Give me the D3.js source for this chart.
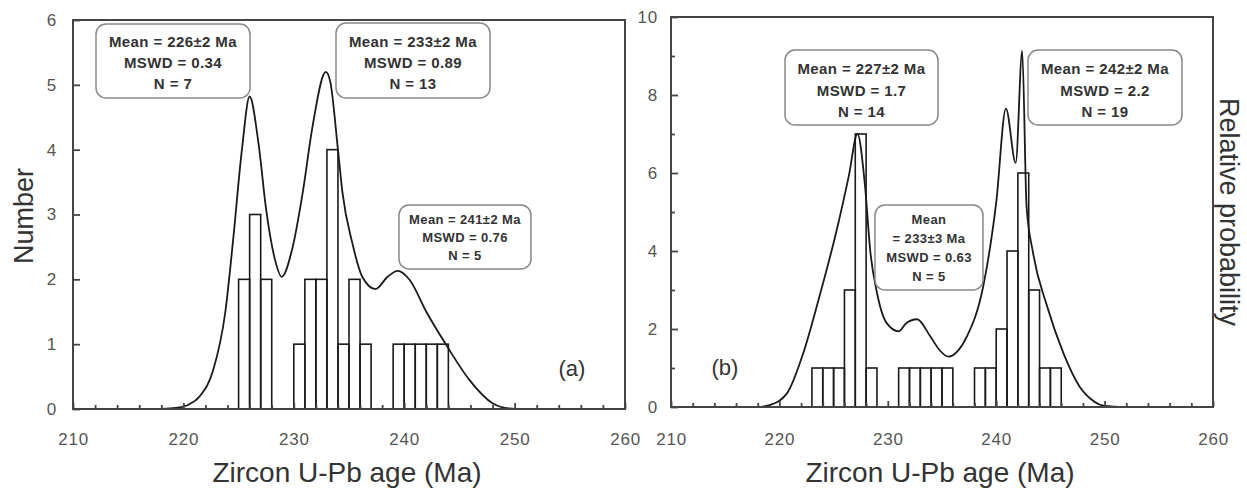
<!DOCTYPE html>
<html><head><meta charset="utf-8">
<script src="https://cdn.jsdelivr.net/npm/d3@7/dist/d3.min.js"></script>
<style>
body{margin:0;background:#fff;}
svg text{font-family:"Liberation Sans",Arial,sans-serif;}
</style></head>
<body><svg id="chart" width="1247" height="489"></svg>
<script>
// ---- Data (a) ----
const binStartA = [225,226,227,230,231,232,233,234,235,236,239,240,241,242,243];
const countA    = [2,3,2,1,2,2,4,1,2,1,1,1,1,1,1];
const curveAgeA = [217,218.5,219.5,220.5,221.5,222.7,223.8,224.5,225.3,226,226.8,227.5,228.3,228.9,229.9,230.8,231.7,232.9,233.3,234,234.4,235.3,236.2,237.4,238.5,239.4,240.5,242,243.8,245.9,248,249.5,251];
const curveValA = [0,0.005,0.02,0.07,0.2,0.6,1.5,2.6,4.0,4.82,4.1,3.07,2.3,2.04,2.5,3.33,4.36,5.2,5.05,4.0,3.35,2.56,2.04,1.85,2.04,2.13,1.99,1.5,0.99,0.45,0.09,0.01,0];
const yTicksA = [0,1,2,3,4,5,6];

// ---- Data (b) ----
const binStartB = [223,224,225,226,227,228,231,232,233,234,235,238,239,240,241,242,243,244,245];
const countB    = [1,1,1,3,7,1,1,1,1,1,1,1,1,2,4,6,3,1,1];
const curveAgeB = [218,219.1,220.7,222.2,223.7,225.3,226.4,227.2,227.9,228.4,229,229.9,231,231.7,232.7,233.9,234.8,235.6,236.5,237.3,238.8,240,240.9,241.8,242.4,242.8,243.4,244.7,246.2,247.7,249,250,252];
const curveValB = [0,0.05,0.35,1.38,2.84,4.55,5.92,7.0,5.66,3.95,2.93,2.15,1.94,2.15,2.25,1.82,1.45,1.29,1.45,1.81,3.09,5.24,7.65,6.26,9.13,5.15,3.95,2.58,1.38,0.52,0.15,0.03,0];
const yTicksB = [0,2,4,6,8,10];
const yMinorB = [1,3,5,7,9];

const xTicks = [210,220,230,240,250,260];
const xMinor = [212,214,216,218,222,224,226,228,232,234,236,238,242,244,246,248,252,254,256,258];

const boxesA = [
  {lines:["Mean = 226±2 Ma","MSWD = 0.34","N = 7"]},
  {lines:["Mean = 233±2 Ma","MSWD = 0.89","N = 13"]},
  {lines:["Mean = 241±2 Ma","MSWD = 0.76","N = 5"]}
];
const boxesB = [
  {lines:["Mean = 227±2 Ma","MSWD = 1.7","N = 14"]},
  {lines:["Mean = 242±2 Ma","MSWD = 2.2","N = 19"]},
  {lines:["Mean","= 233±3 Ma","MSWD = 0.63","N = 5"]}
];

const svg = d3.select("#chart");
const axisColor = "#444", lineColor = "#1a1a1a";

function panel(o){
  const g = svg.append("g");
  const x = d3.scaleLinear().domain([210,260]).range([o.left,o.right]);
  const y = d3.scaleLinear().domain([0,o.ymax]).range([o.bottom,o.top]);

  g.append("g").selectAll("rect").data(o.bins.map((b,i)=>({b,c:o.counts[i]})))
    .join("rect")
    .attr("x",d=>x(d.b)).attr("width",d=>x(d.b+1)-x(d.b))
    .attr("y",d=>y(d.c)).attr("height",d=>y(0)-y(d.c))
    .attr("fill","none").attr("stroke",lineColor).attr("stroke-width",1.6);

  const pts = o.ages.map((a,i)=>[a,o.vals[i]]);
  g.append("path").datum(pts)
    .attr("d",d3.line().x(d=>x(d[0])).y(d=>y(d[1])).curve(d3.curveMonotoneX))
    .attr("fill","none").attr("stroke",lineColor).attr("stroke-width",1.8);

  g.append("g").attr("transform",`translate(0,${o.bottom})`)
    .call(d3.axisBottom(x).tickValues(xTicks).tickSize(-6).tickPadding(o.xpad).tickFormat(d3.format("d")));
  g.append("g").attr("transform",`translate(0,${o.bottom})`)
    .call(d3.axisBottom(x).tickValues(xMinor).tickSize(-4).tickFormat(""));
  g.append("g").attr("transform",`translate(${o.left},0)`)
    .call(d3.axisLeft(y).tickValues(o.yTicks).tickSize(-7).tickPadding(o.ypad).tickFormat(d3.format("d")));
  if(o.yMinor){
    g.append("g").attr("transform",`translate(${o.left},0)`)
      .call(d3.axisLeft(y).tickValues(o.yMinor).tickSize(-4).tickFormat(""));
  }
  g.selectAll(".domain").remove();
  g.selectAll(".tick line").attr("stroke",axisColor).attr("stroke-width",1.8);
  g.selectAll(".tick text").attr("fill","#555").style("font-size","17px").style("letter-spacing","0.8px");

  g.append("rect").attr("x",o.left).attr("y",o.top)
    .attr("width",o.right-o.left).attr("height",o.bottom-o.top)
    .attr("fill","none").attr("stroke",axisColor).attr("stroke-width",2);

  o.boxes.forEach((b,i)=>{
    const p = o.boxPos[i];
    g.append("rect").attr("x",p.x0).attr("y",p.y0).attr("width",p.x1-p.x0).attr("height",p.y1-p.y0)
      .attr("rx",10).attr("ry",10).attr("fill","#fff").attr("stroke","#888").attr("stroke-width",1.5);
    b.lines.forEach((t,j)=>{
      g.append("text").attr("x",(p.x0+p.x1)/2).attr("y",p.ty[j])
        .attr("text-anchor","middle").attr("dominant-baseline","central")
        .style("font-size",p.fs+"px").style("font-weight","bold").style("letter-spacing","0.4px")
        .attr("fill","#333").text(t);
    });
  });

  g.append("text").attr("x",o.lab.x).attr("y",o.lab.y).attr("text-anchor","middle")
    .attr("dominant-baseline","central").style("font-size","22px").attr("fill","#333").text(o.lab.t);

  g.append("text").attr("x",o.xTitleX).attr("y",482).attr("text-anchor","middle")
    .style("font-size","28px").attr("fill","#333").text("Zircon U-Pb age (Ma)");
  return g;
}

panel({left:73,right:625,top:20,bottom:409,ymax:6,bins:binStartA,counts:countA,
  ages:curveAgeA,vals:curveValA,yTicks:yTicksA,xpad:24,ypad:16,
  boxes:boxesA,
  boxPos:[
    {x0:96,x1:250,y0:24,y1:98,ty:[41,62,83],fs:15},
    {x0:336,x1:490,y0:23,y1:98,ty:[41,62,83],fs:15},
    {x0:399,x1:531,y0:205,y1:269,ty:[219,237,255],fs:13}
  ],
  lab:{x:572,y:368,t:"(a)"}, xTitleX:347});

panel({left:671,right:1213,top:17,bottom:407,ymax:10,bins:binStartB,counts:countB,
  ages:curveAgeB,vals:curveValB,yTicks:yTicksB,yMinor:yMinorB,xpad:26,ypad:13,
  boxes:boxesB,
  boxPos:[
    {x0:785,x1:938,y0:50,y1:125,ty:[68,90,111],fs:15},
    {x0:1028,x1:1182,y0:50,y1:125,ty:[68,90,111],fs:15},
    {x0:875,x1:983,y0:205,y1:290,ty:[219,238,257,276],fs:13}
  ],
  lab:{x:725,y:367,t:"(b)"}, xTitleX:940});

svg.append("text").attr("transform","translate(33,216) rotate(-90)").attr("text-anchor","middle")
  .style("font-size","27px").attr("fill","#333").text("Number");
svg.append("text").attr("transform","translate(1220,212) rotate(90)").attr("text-anchor","middle")
  .style("font-size","27px").attr("fill","#333").text("Relative probability");
</script>
</body></html>
